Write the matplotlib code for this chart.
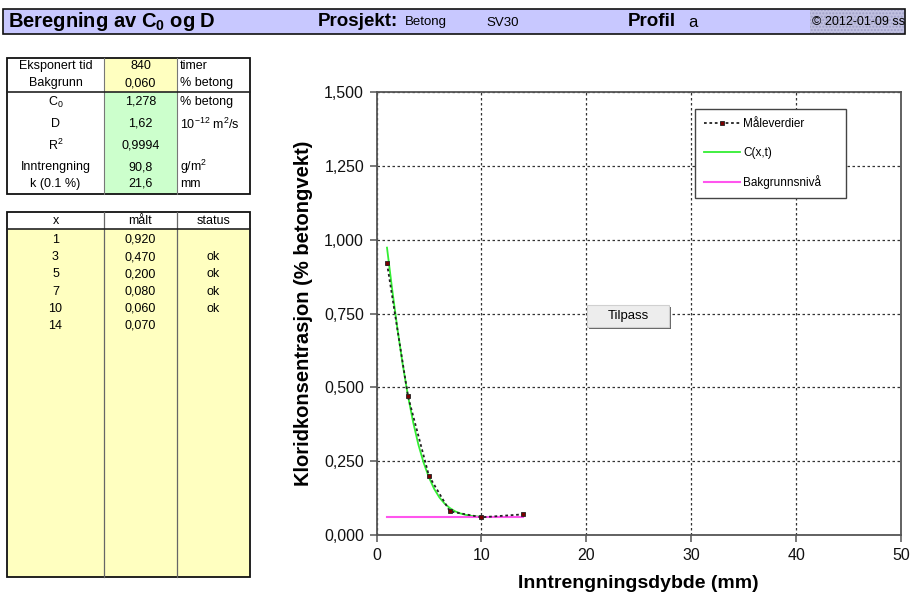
import matplotlib
matplotlib.use("Agg")
import matplotlib.pyplot as plt
from matplotlib.patches import Rectangle
from matplotlib.ticker import FuncFormatter

plt.rcParams['font.family'] = ['Liberation Sans', 'DejaVu Sans']
plt.rcParams['mathtext.fontset'] = 'custom'
plt.rcParams['mathtext.rm'] = 'Liberation Sans'
plt.rcParams['mathtext.it'] = 'Liberation Sans:italic'
plt.rcParams['mathtext.bf'] = 'Liberation Sans:bold'

# ---------------- data ----------------
meas_x = [1, 3, 5, 7, 10, 14]
meas_y = [0.920, 0.470, 0.200, 0.080, 0.060, 0.070]
status = ["", "ok", "ok", "ok", "ok", ""]

curve_x = [1, 1.5, 2, 2.5, 3, 3.5, 4, 4.5, 5, 5.5, 6, 6.5, 7, 7.5, 8, 8.5, 9, 9.5, 10]
curve_y = [0.973, 0.830, 0.697, 0.577, 0.471, 0.381, 0.305, 0.244, 0.195, 0.156,
           0.127, 0.106, 0.091, 0.080, 0.073, 0.068, 0.065, 0.063, 0.062]

bg_x = [1, 14]
bg_y = [0.060, 0.060]

param_labels = ["Eksponert tid", "Bakgrunn", r"C$_0$", "D", r"R$^2$", "Inntrengning", "k (0.1 %)"]
param_values = ["840", "0,060", "1,278", "1,62", "0,9994", "90,8", "21,6"]
param_units = ["timer", "% betong", "% betong", r"10$^{-12}$ m$^2$/s", "", r"g/m$^2$", "mm"]

x_ticks = [0, 10, 20, 30, 40, 50]
y_ticks = [0, 0.25, 0.5, 0.75, 1.0, 1.25, 1.5]

# ---------------- figure ----------------
W, H = 912, 603
fig = plt.figure(figsize=(W / 100, H / 100), dpi=100)
fig.patch.set_facecolor('white')

# chart axes (pixel frame: x 376.5..901, y 92..535)
L, R, T, B = 376.5, 901, 92, 535
ax = fig.add_axes([L / W, 1 - B / H, (R - L) / W, (B - T) / H])
ax.set_xlim(0, 50)
ax.set_ylim(0, 1.5)
ax.set_xticks(x_ticks)
ax.set_yticks(y_ticks)
ax.yaxis.set_major_formatter(FuncFormatter(lambda v, p: f"{v:.3f}".replace('.', ',')))
ax.grid(True, linestyle=(0, (2, 2)), color='#333333', linewidth=0.9)
ax.set_axisbelow(True)
for s in ax.spines.values():
    s.set_color('#555555')
    s.set_linewidth(1.3)
ax.tick_params(direction='out', length=5, width=1.1, color='#555555', labelsize=11.5,
               pad=4, labelcolor='#111111')

l1, = ax.plot(meas_x, meas_y, linestyle=(0, (1.5, 1.5)), color='#222222', linewidth=1.3,
              marker='s', markersize=3.5, markerfacecolor='#7a0000',
              markeredgecolor='#222222', markeredgewidth=0.6, label='Måleverdier', zorder=4)
l2, = ax.plot(curve_x, curve_y, color='#33ee33', linewidth=1.3, label='C(x,t)', zorder=3)
l3, = ax.plot(bg_x, bg_y, color='#ff55ee', linewidth=1.5, label='Bakgrunnsnivå', zorder=3)

ax.set_xlabel('Inntrengningsdybde (mm)', fontsize=14, fontweight='bold', labelpad=9)
ax.set_ylabel('Kloridkonsentrasjon (% betongvekt)', fontsize=14.5, fontweight='bold', labelpad=8)

lx0 = (695 - L) / (R - L)
ly1 = 1 - (109 - T) / (B - T)
lw_ = (846 - 695) / (R - L)
leg = ax.legend(handles=[l1, l2, l3], loc='upper left',
                bbox_to_anchor=(lx0, ly1 - 0.2, lw_, 0.2), mode='expand',
                fontsize=8.5, labelspacing=1.38, borderpad=0.8, handlelength=3.0,
                handletextpad=0.3, borderaxespad=0, fancybox=False, framealpha=1,
                edgecolor='#444444')
leg.get_frame().set_linewidth(1.0)

# ---------------- overlay (pixel coords) ----------------
ov = fig.add_axes([0, 0, 1, 1], zorder=5)
ov.set_xlim(0, W)
ov.set_ylim(H, 0)
ov.axis('off')
ov.patch.set_alpha(0)

# header bar
ov.add_patch(Rectangle((3, 9), 902, 25, facecolor='#c8c8ff', edgecolor='#111111', linewidth=1.2))
ov.add_patch(Rectangle((810, 10), 94, 23, facecolor='#c0c0e0', edgecolor='#a0a0c8',
                       hatch='.....', linewidth=0))
ov.text(8, 21.5, r"Beregning av $\mathbf{C_0}$ og D", fontsize=14.5, fontweight='bold',
        va='center', ha='left')
ov.text(318, 21.5, "Prosjekt:", fontsize=13.5, fontweight='bold', va='center', ha='left')
ov.text(405, 22.5, "Betong", fontsize=9.5, va='center', ha='left')
ov.text(486, 22.5, "SV30", fontsize=9.5, va='center', ha='left')
ov.text(628, 21.5, "Profil", fontsize=13.5, fontweight='bold', va='center', ha='left')
ov.text(688, 22.5, "a", fontsize=12, va='center', ha='left')
ov.text(905, 22, "© 2012-01-09 ss", fontsize=9, va='center', ha='right')

# ---------------- parameter table ----------------
c0, c1, c2, c3 = 7, 104, 177, 250
t_top, t_sep, t_bot = 58, 92, 194
ov.add_patch(Rectangle((c1, t_top), c2 - c1, t_sep - t_top, facecolor='#ffffc0', linewidth=0))
ov.add_patch(Rectangle((c1, t_sep), c2 - c1, t_bot - t_sep, facecolor='#ccffcc', linewidth=0))
for xv in (c1, c2):
    ov.plot([xv, xv], [t_top, t_bot], color='#777777', linewidth=0.8)
ov.plot([c0, c3], [t_sep, t_sep], color='#222222', linewidth=1.2)
ov.add_patch(Rectangle((c0, t_top), c3 - c0, t_bot - t_top, facecolor='none',
                       edgecolor='#111111', linewidth=1.3))
row_y = [66, 83, 102, 124, 145, 167, 184]
for yv, lab, val, unit in zip(row_y, param_labels, param_values, param_units):
    ov.text((c0 + c1) / 2, yv, lab, fontsize=9, ha='center', va='center')
    ov.text((c1 + c2) / 2, yv, val, fontsize=9, ha='center', va='center')
    if unit:
        ov.text(c2 + 3, yv, unit, fontsize=9, ha='left', va='center')

# ---------------- measurement table ----------------
m_top, m_head, m_bot = 212, 229, 577
ov.add_patch(Rectangle((c0, m_head), c3 - c0, m_bot - m_head, facecolor='#ffffc0', linewidth=0))
for xv in (c1, c2):
    ov.plot([xv, xv], [m_top, m_bot], color='#666666', linewidth=0.9)
ov.plot([c0, c3], [m_head, m_head], color='#222222', linewidth=1.2)
ov.add_patch(Rectangle((c0, m_top), c3 - c0, m_bot - m_top, facecolor='none',
                       edgecolor='#111111', linewidth=1.3))
ov.text((c0 + c1) / 2, 221, "x", fontsize=9, ha='center', va='center')
ov.text((c1 + c2) / 2, 221, "målt", fontsize=9, ha='center', va='center')
ov.text((c2 + c3) / 2, 221, "status", fontsize=9, ha='center', va='center')
for i, (xv, yv, st) in enumerate(zip(meas_x, meas_y, status)):
    ry = 240 + 17.2 * i
    ov.text((c0 + c1) / 2, ry, f"{xv}", fontsize=9, ha='center', va='center')
    ov.text((c1 + c2) / 2, ry, f"{yv:.3f}".replace('.', ','), fontsize=9, ha='center', va='center')
    if st:
        ov.text((c2 + c3) / 2, ry, st, fontsize=9, ha='center', va='center')

# ---------------- Tilpass button ----------------
ov.add_patch(Rectangle((589, 307), 82, 22, facecolor='#666666', linewidth=0))
ov.add_patch(Rectangle((587, 305), 82, 22, facecolor='#ededed', edgecolor='#d0d0d0', linewidth=0.8))
ov.text(628, 316.5, "Tilpass", fontsize=9.5, ha='center', va='center')

fig.savefig('out.png', dpi=100, facecolor='white')
